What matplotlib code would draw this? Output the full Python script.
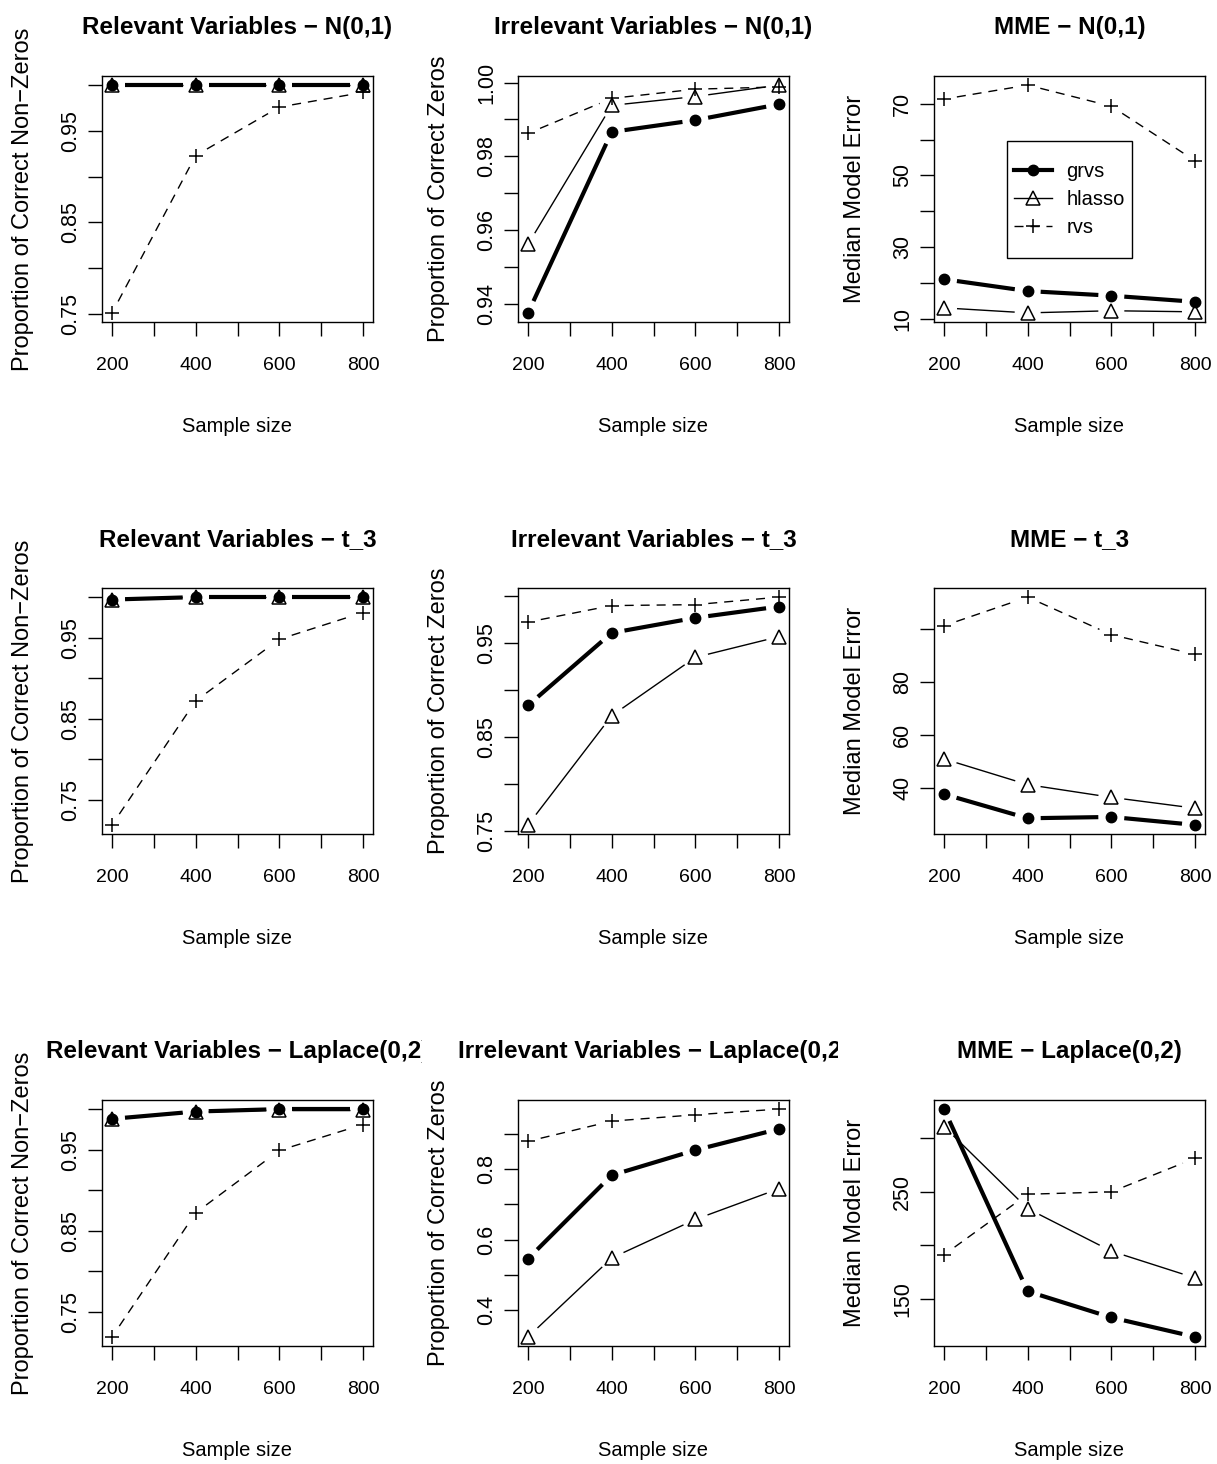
import numpy as np
import matplotlib
matplotlib.use("Agg")
import matplotlib.pyplot as plt
from matplotlib.lines import Line2D
from matplotlib.patches import Rectangle
from matplotlib.transforms import Bbox, TransformedBbox

plt.rcParams["font.family"] = ["Liberation Sans", "DejaVu Sans"]

sample_size = [200, 400, 600, 800]
methods = ["grvs", "hlasso", "rvs"]
dists = ["N(0,1)", "t_3", "Laplace(0,2)"]

# relevant variables (proportion of correct non-zeros)
rel_norm_grvs = [1.0, 1.0, 1.0, 1.0]
rel_norm_hlasso = [1.0, 1.0, 1.0, 1.0]
rel_norm_rvs = [0.751, 0.923, 0.976, 0.992]
rel_t3_grvs = [0.997, 1.0, 1.0, 1.0]
rel_t3_hlasso = [0.997, 1.0, 1.0, 1.0]
rel_t3_rvs = [0.719, 0.872, 0.948, 0.981]
rel_lap_grvs = [0.988, 0.997, 1.0, 1.0]
rel_lap_hlasso = [0.988, 0.996, 0.999, 0.999]
rel_lap_rvs = [0.719, 0.872, 0.949, 0.981]

# irrelevant variables (proportion of correct zeros)
irr_norm_grvs = [0.9375, 0.9866, 0.9898, 0.9941]
irr_norm_hlasso = [0.9561, 0.9938, 0.9962, 0.9993]
irr_norm_rvs = [0.9862, 0.9957, 0.9982, 0.9988]
irr_t3_grvs = [0.884, 0.961, 0.977, 0.989]
irr_t3_hlasso = [0.757, 0.873, 0.935, 0.957]
irr_t3_rvs = [0.9725, 0.990, 0.991, 0.999]
irr_lap_grvs = [0.546, 0.782, 0.853, 0.913]
irr_lap_hlasso = [0.325, 0.548, 0.657, 0.744]
irr_lap_rvs = [0.878, 0.935, 0.953, 0.969]

# median model error
mme_norm_grvs = [21.0, 17.7, 16.4, 14.7]
mme_norm_hlasso = [13.0, 11.6, 12.2, 11.9]
mme_norm_rvs = [71.3, 75.2, 69.3, 54.1]
mme_t3_grvs = [37.8, 28.7, 29.2, 26.2]
mme_t3_hlasso = [51.1, 41.4, 36.6, 32.5]
mme_t3_rvs = [101.4, 112.2, 98.0, 90.6]
mme_lap_grvs = [327.2, 157.2, 132.8, 114.7]
mme_lap_hlasso = [310.9, 234.4, 194.7, 169.7]
mme_lap_rvs = [191.3, 247.8, 250.0, 281.3]

# y ticks (R drops labels that would overlap)
prop_ticks = [0.75, 0.80, 0.85, 0.90, 0.95, 1.00]
prop_labels = ["0.75", "", "0.85", "", "0.95", ""]
irr_norm_ticks = [0.94, 0.95, 0.96, 0.97, 0.98, 0.99, 1.00]
irr_norm_labels = ["0.94", "", "0.96", "", "0.98", "", "1.00"]
irr_lap_ticks = [0.4, 0.5, 0.6, 0.7, 0.8, 0.9]
irr_lap_labels = ["0.4", "", "0.6", "", "0.8", ""]
mme_norm_ticks = [10, 20, 30, 40, 50, 60, 70]
mme_norm_labels = ["10", "", "30", "", "50", "", "70"]
mme_t3_ticks = [40, 60, 80, 100]
mme_t3_labels = ["40", "60", "80", ""]
mme_lap_ticks = [150, 200, 250, 300]
mme_lap_labels = ["150", "", "250", ""]

xticks = [200, 300, 400, 500, 600, 700, 800]
xlabels = ["200", "", "400", "", "600", "", "800"]

panels = [
    # row, col, title, ylabel, series, yticks, ylabels
    (0, 0, "Relevant Variables \u2212 " + dists[0], "Proportion of Correct Non\u2212Zeros",
     (rel_norm_grvs, rel_norm_hlasso, rel_norm_rvs), prop_ticks, prop_labels),
    (0, 1, "Irrelevant Variables \u2212 " + dists[0], "Proportion of Correct Zeros",
     (irr_norm_grvs, irr_norm_hlasso, irr_norm_rvs), irr_norm_ticks, irr_norm_labels),
    (0, 2, "MME \u2212 " + dists[0], "Median Model Error",
     (mme_norm_grvs, mme_norm_hlasso, mme_norm_rvs), mme_norm_ticks, mme_norm_labels),
    (1, 0, "Relevant Variables \u2212 " + dists[1], "Proportion of Correct Non\u2212Zeros",
     (rel_t3_grvs, rel_t3_hlasso, rel_t3_rvs), prop_ticks, prop_labels),
    (1, 1, "Irrelevant Variables \u2212 " + dists[1], "Proportion of Correct Zeros",
     (irr_t3_grvs, irr_t3_hlasso, irr_t3_rvs), prop_ticks, prop_labels),
    (1, 2, "MME \u2212 " + dists[1], "Median Model Error",
     (mme_t3_grvs, mme_t3_hlasso, mme_t3_rvs), mme_t3_ticks, mme_t3_labels),
    (2, 0, "Relevant Variables \u2212 " + dists[2], "Proportion of Correct Non\u2212Zeros",
     (rel_lap_grvs, rel_lap_hlasso, rel_lap_rvs), prop_ticks, prop_labels),
    (2, 1, "Irrelevant Variables \u2212 " + dists[2], "Proportion of Correct Zeros",
     (irr_lap_grvs, irr_lap_hlasso, irr_lap_rvs), irr_lap_ticks, irr_lap_labels),
    (2, 2, "MME \u2212 " + dists[2], "Median Model Error",
     (mme_lap_grvs, mme_lap_hlasso, mme_lap_rvs), mme_lap_ticks, mme_lap_labels),
]

styles = [
    dict(lw=3.0, ls="-", marker="o", ms=7.5, mfc="k", mew=1.0),
    dict(lw=1.0, ls="-", marker="^", ms=10, mfc="none", mew=1.1),
    dict(lw=1.0, ls=(0, (6.5, 5)), marker="+", ms=10, mfc="none", mew=1.1),
]

W, H = 1217, 1464
col_left = [102, 518, 934]
row_top = [76, 588, 1100]
col_edges = [(0, 422), (422, 838), (838, W)]
AX_W, AX_H = 271, 246
GAP = 13  # px gap around points, like R's type="b"

fig = plt.figure(figsize=(W / 100, H / 100), dpi=100)


def type_b(ax, x, y, style):
    # lines with gaps around the points, then the points
    pts = ax.transData.transform(np.column_stack([x, y]))
    inv = ax.transData.inverted()
    for p, q in zip(pts[:-1], pts[1:]):
        d = q - p
        L = np.hypot(d[0], d[1])
        if L <= 2 * GAP:
            continue
        u = d / L
        seg = inv.transform(np.vstack([p + u * GAP, q - u * GAP]))
        ax.plot(seg[:, 0], seg[:, 1], color="k", lw=style["lw"], ls=style["ls"],
                solid_capstyle="butt", dash_capstyle="butt")
    ax.plot(x, y, ls="none", color="k", marker=style["marker"], ms=style["ms"],
            mfc=style["mfc"], mec="k", mew=style["mew"])


for row, col, title, ylab, series, yt, yl in panels:
    left, top = col_left[col], row_top[row]
    ax = fig.add_axes([left / W, 1 - (top + AX_H) / H, AX_W / W, AX_H / H])

    allv = np.concatenate([np.asarray(s, float) for s in series])
    lo, hi = allv.min(), allv.max()
    pad = 0.04 * (hi - lo)
    ax.set_ylim(lo - pad, hi + pad)
    xpad = 0.04 * (sample_size[-1] - sample_size[0])
    ax.set_xlim(sample_size[0] - xpad, sample_size[-1] + xpad)

    for s, st in zip(series, styles):
        type_b(ax, sample_size, s, st)

    ax.set_xticks(xticks)
    ax.set_xticklabels(xlabels)
    ax.set_yticks(yt)
    ax.set_yticklabels(yl)
    ax.tick_params(axis="both", direction="out", length=10, width=1, colors="k")
    ax.tick_params(axis="x", labelsize=14, pad=15)
    ax.tick_params(axis="y", labelsize=15.5, pad=5, labelrotation=90)
    for lab in ax.get_yticklabels():
        lab.set_va("center")
    for sp in ax.spines.values():
        sp.set_linewidth(1.0)

    ax.set_xlabel("Sample size", fontsize=14.5)
    ax.xaxis.set_label_coords(0.5, -104 / AX_H)
    ax.xaxis.label.set_va("center")
    ax.set_ylabel(ylab, fontsize=17)
    ax.yaxis.set_label_coords(-79 / AX_W, 0.5)
    ax.yaxis.label.set_va("center")

    t = ax.set_title(title, fontsize=17.5, fontweight="bold", pad=30)
    x0, x1 = col_edges[col]
    t.set_clip_box(TransformedBbox(Bbox.from_extents(x0 / W, 0, x1 / W, 1), fig.transFigure))
    t.set_clip_on(True)

    if row == 0 and col == 2:
        handles = [Line2D([], [], color="k", lw=st["lw"], ls=st["ls"], marker=st["marker"],
                          ms=st["ms"], mfc=st["mfc"], mec="k", mew=st["mew"]) for st in styles]
        ax.legend(handles, methods, loc="center", bbox_to_anchor=(0.5, 0.498), frameon=False,
                  fontsize=14.5, handlelength=1.9, handletextpad=0.7, labelspacing=0.45,
                  borderpad=0.3)
        ax.add_patch(Rectangle((0.269, 0.26), 0.462, 0.476, transform=ax.transAxes,
                               fill=False, ec="k", lw=1.0, zorder=5))

fig.savefig("out.png", dpi=100)
